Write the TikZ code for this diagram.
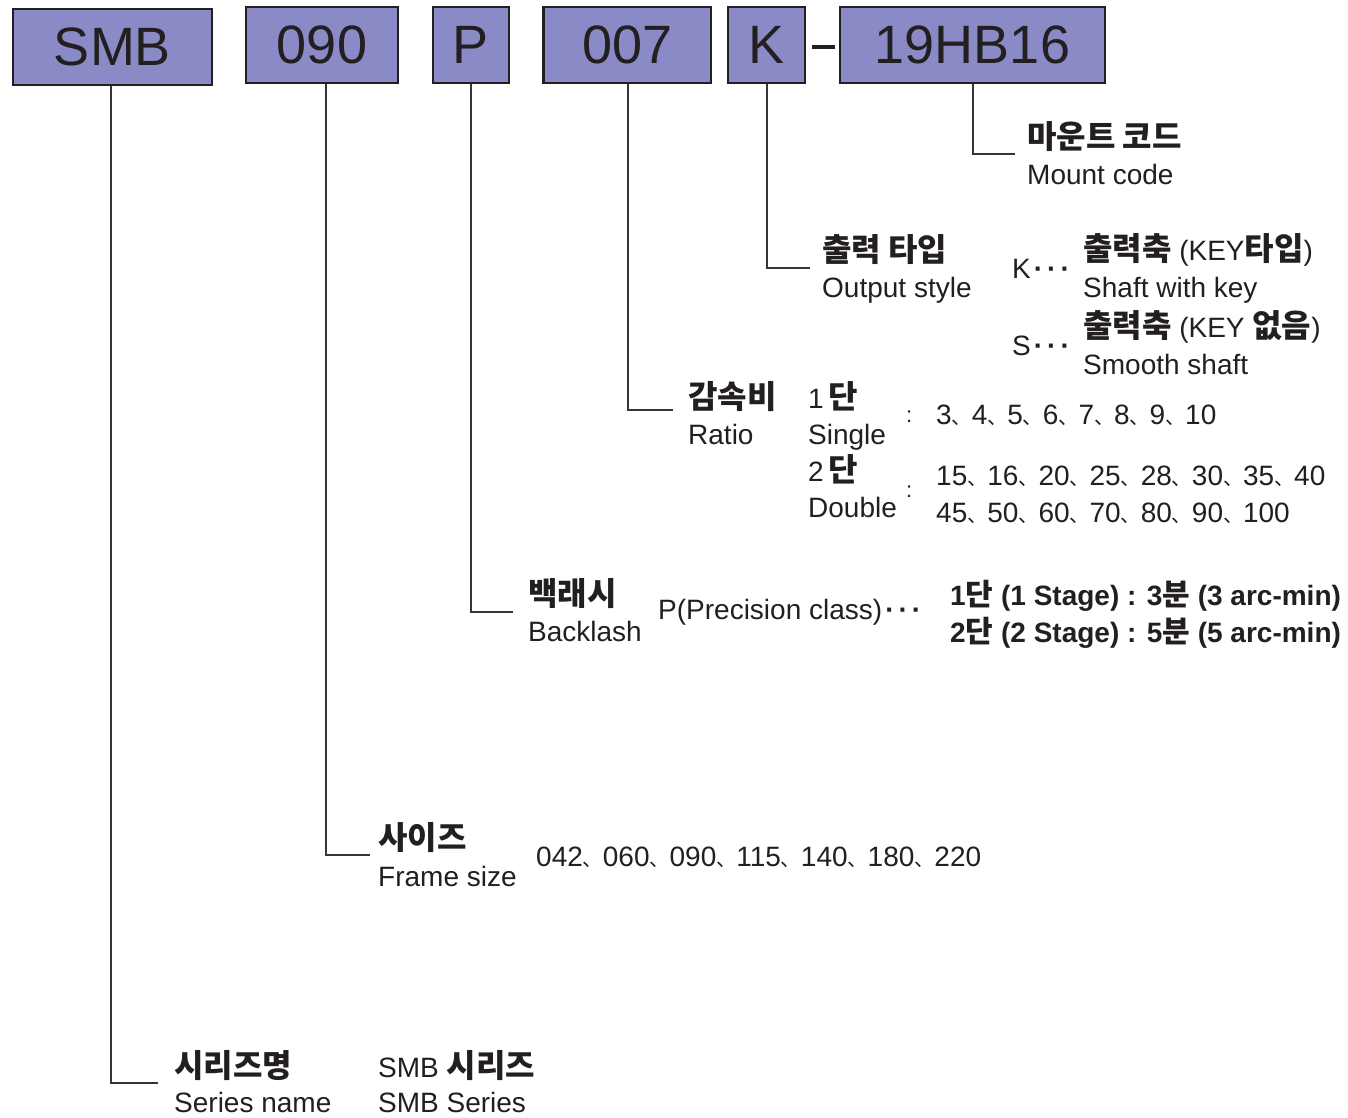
\documentclass[tikz,border=0pt]{standalone}
\usepackage{fontspec}
\setmainfont{Liberation Sans}
\newfontfamily\krfont{Noto Sans CJK KR}
\newcommand\kb{\krfont\bfseries}
\newcommand\ksep{{\krfont\fontsize{20}{20}\selectfont 、}}
\newcommand\tdots{\hspace{3pt}\textbf{·}\hspace{4pt}\textbf{·}\hspace{4pt}\textbf{·}}
\definecolor{boxfill}{RGB}{138,138,198}
\definecolor{ink}{RGB}{35,31,32}
\begin{document}
\begin{tikzpicture}[x=1pt,y=-1pt,
  codebox/.style={draw=ink, line width=1.5pt, fill=boxfill, inner sep=0pt, minimum height=76pt, text=ink, font=\fontsize{54}{60}\selectfont},
  lead/.style={draw=ink!90, line width=1.4pt},
  krl/.style={anchor=base west, inner sep=0pt, text=ink, font=\kb\fontsize{32}{36}\selectfont},
  enl/.style={anchor=base west, inner sep=0pt, text=ink, font=\fontsize{28}{32}\selectfont},
  bdl/.style={anchor=base west, inner sep=0pt, text=ink, font=\bfseries\fontsize{28}{32}\selectfont},
  coln/.style={anchor=base west, inner sep=0pt, text=ink, font=\fontsize{22}{26}\selectfont}]
\useasboundingbox (0,0) rectangle (1348,1117);
\fill[white] (0,0) rectangle (1348,1117);

% code boxes
\node[codebox, minimum width=199pt] (smb) at (112.5,47) {SMB};
\node[codebox, minimum width=152pt] (n090) at (322,45) {090};
\node[codebox, minimum width=76pt] (np) at (471,45) {P};
\node[codebox, minimum width=167pt] (n007) at (627.5,45) {007};
\draw[ink, line width=3pt] (n007.south west) -- (n007.north west);
\node[codebox, minimum width=77pt] (nk) at (766.5,45) {K};
\node[codebox, minimum width=265pt] (mc) at (972.5,45) {19HB16};
\draw[ink, line width=4pt] ([xshift=6pt,yshift=-2pt]nk.east) -- ([xshift=-4pt,yshift=-2pt]mc.west);

% leader end points
\coordinate (e1) at (158,1083);
\coordinate (e2) at (370,855);
\coordinate (e3) at (513,612);
\coordinate (e4) at (673,410);
\coordinate (e5) at (810,268);
\coordinate (e6) at (1015,154);
\draw[lead] ([xshift=-1.5pt]smb.south) |- (e1);
\draw[lead] ([xshift=4pt]n090.south) |- (e2);
\draw[lead] (np.south) |- (e3);
\draw[lead] ([xshift=0.5pt]n007.south) |- (e4);
\draw[lead] ([xshift=0.5pt]nk.south) |- (e5);
\draw[lead] ([xshift=0.5pt]mc.south) |- (e6);

% mount code
\node[krl] (mk) at (1027,148) {마운트 코드};
\node[enl] (me) at (1027,184) {Mount code};

% output style
\node[krl] (ok) at (822,261) {출력 타입};
\node[enl] (oe) at (822,297) {Output style};
\node[enl] (kk) at (1012,278) {K\tdots};
\node[enl] (k1) at (1083,260) {{\kb\fontsize{32}{36}\selectfont 출력축} (KEY{\kb\fontsize{32}{36}\selectfont 타입})};
\node[enl] (k2) at (1083,297) {Shaft with key};
\node[enl] (s1) at (1083,337) {{\kb\fontsize{32}{36}\selectfont 출력축} (KEY {\kb\fontsize{32}{36}\selectfont 없음})};
\node[enl] (ss) at (1012,355) {S\tdots};
\node[enl] (s2) at (1083,374) {Smooth shaft};

% ratio
\node[krl] (rk) at (688,408) {감속비};
\node[enl] (re) at (688,444) {Ratio};
\node[enl] (r1k) at (808,408) {1\,{\kb\fontsize{32}{36}\selectfont 단}};
\node[enl] (r1e) at (808,444) {Single};
\node[coln] (c1) at (906,422) {:};
\node[enl] (r1v) at (936,424) {3\ksep 4\ksep 5\ksep 6\ksep 7\ksep 8\ksep 9\ksep 10};
\node[enl] (r2k) at (808,481) {2\,{\kb\fontsize{32}{36}\selectfont 단}};
\node[enl] (r2e) at (808,517) {Double};
\node[coln] (c2) at (906,497) {:};
\node[enl] (r2v) at (936,485) {15\ksep 16\ksep 20\ksep 25\ksep 28\ksep 30\ksep 35\ksep 40};
\node[enl] (r3v) at (936,522) {45\ksep 50\ksep 60\ksep 70\ksep 80\ksep 90\ksep 100};

% backlash
\node[krl] (bk) at (528,605) {백래시};
\node[enl] (be) at (528,641) {Backlash};
\node[enl] (bp) at (658,619) {P(Precision class)\tdots};
\node[bdl] (b1) at (950,605) {1{\kb\fontsize{30}{34}\selectfont 단} (1 Stage) : 3{\kb\fontsize{30}{34}\selectfont 분} (3 arc-min)};
\node[bdl] (b2) at (950,642) {2{\kb\fontsize{30}{34}\selectfont 단} (2 Stage) : 5{\kb\fontsize{30}{34}\selectfont 분} (5 arc-min)};

% frame size
\node[krl] (fk) at (378,849) {사이즈};
\node[enl] (fe) at (378,886) {Frame size};
\node[enl] (fv) at (536,866) {042\ksep 060\ksep 090\ksep 115\ksep 140\ksep 180\ksep 220};

% series
\node[krl] (sk) at (174,1077) {시리즈명};
\node[enl] (se) at (174,1112) {Series name};
\node[enl] (sv1) at (378,1077) {SMB {\kb\fontsize{32}{36}\selectfont 시리즈}};
\node[enl] (sv2) at (378,1112) {SMB Series};
\end{tikzpicture}
\end{document}
